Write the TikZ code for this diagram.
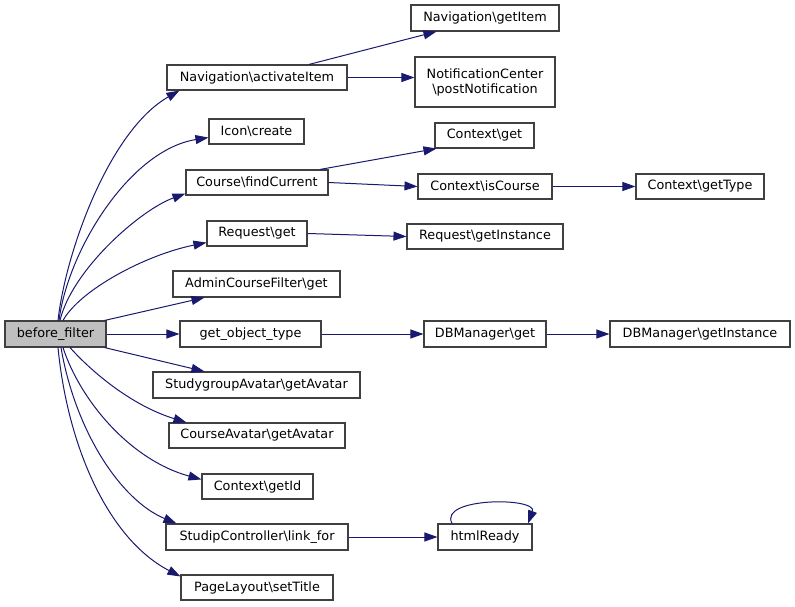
\documentclass[tikz,border=0pt]{standalone}
\usepackage{fontspec}
\setmainfont{DejaVu Sans}
\usetikzlibrary{arrows.meta}
\definecolor{edgeblue}{HTML}{191970}
\definecolor{boxborder}{HTML}{404040}
\definecolor{boxfill}{HTML}{BFBFBF}
\newcommand{\bs}{\textbackslash}
\tikzset{
  fn/.style={draw=boxborder, line width=1.1pt, fill=white, inner sep=0pt, align=center,
    font=\fontsize{12.8}{15}\selectfont},
  root/.style={fn, fill=boxfill},
  call/.style={draw=edgeblue, line width=1pt, -{Triangle[length=13pt,width=9pt,fill=edgeblue]}},
}
\begin{document}
\begin{tikzpicture}[x=1pt,y=-1pt]
\useasboundingbox (0,0) rectangle (795,607);
% nodes
\node[root, minimum width=101pt, minimum height=26pt] (bf) at (55.5,334) {before\_filter};
\node[fn, minimum width=180pt, minimum height=25pt] (act) at (257,77.5) {Navigation\bs activateItem};
\node[fn, minimum width=148pt, minimum height=26pt] (getItem) at (485,18) {Navigation\bs getItem};
\node[fn, minimum width=140pt, minimum height=50pt] (notif) at (485,82) {NotificationCenter\\\bs postNotification};
\node[fn, minimum width=95pt, minimum height=25pt] (icon) at (256.5,131.5) {Icon\bs create};
\node[fn, minimum width=142pt, minimum height=25pt] (find) at (257,182.5) {Course\bs findCurrent};
\node[fn, minimum width=99pt, minimum height=25pt] (cget) at (484.5,135.5) {Context\bs get};
\node[fn, minimum width=134pt, minimum height=25pt] (isCourse) at (485,186.5) {Context\bs isCourse};
\node[fn, minimum width=100pt, minimum height=25pt] (rget) at (257,233.5) {Request\bs get};
\node[fn, minimum width=156pt, minimum height=25pt] (rgetInst) at (485,236.5) {Request\bs getInstance};
\node[fn, minimum width=128pt, minimum height=25pt] (getType) at (700,186.5) {Context\bs getType};
\node[fn, minimum width=167pt, minimum height=26pt] (admin) at (256.5,284) {AdminCourseFilter\bs get};
\node[fn, minimum width=141pt, minimum height=26pt] (got) at (250.5,334) {get\_object\_type};
\node[fn, minimum width=122pt, minimum height=26pt] (dbget) at (485,334) {DBManager\bs get};
\node[fn, minimum width=180pt, minimum height=26pt] (dbInst) at (700,334) {DBManager\bs getInstance};
\node[fn, minimum width=207pt, minimum height=26pt] (study) at (256.5,385) {StudygroupAvatar\bs getAvatar};
\node[fn, minimum width=176pt, minimum height=25pt] (cavatar) at (257,435.5) {CourseAvatar\bs getAvatar};
\node[fn, minimum width=111pt, minimum height=25pt] (getId) at (257.5,486.5) {Context\bs getId};
\node[fn, minimum width=182pt, minimum height=26pt] (link) at (257,537) {StudipController\bs link\_for};
\node[fn, minimum width=94pt, minimum height=26pt] (html) at (485,537) {htmlReady};
\node[fn, minimum width=152pt, minimum height=25pt] (page) at (257,587.5) {PageLayout\bs setTitle};
% edges from before_filter
\draw[call] ([xshift=2.5pt]bf.north) .. controls (66,250) and (110,130) .. ([xshift=13pt]act.south west);
\draw[call] ([xshift=3.5pt]bf.north) .. controls (68,250) and (130,150) .. ([yshift=7pt]icon.south west);
\draw[call] ([xshift=4.5pt]bf.north) .. controls (72,270) and (140,210) .. ([yshift=2pt]find.south west);
\draw[call] ([xshift=7.5pt]bf.north) .. controls (80,290) and (145,255) .. ([yshift=4pt]rget.south west);
\draw[call] ([xshift=-2pt]bf.north east) -- ([xshift=32pt]admin.south west);
\draw[call] (bf.east) -- (got.west);
\draw[call] ([xshift=-2pt]bf.south east) -- ([xshift=52pt]study.north west);
\draw[call] ([xshift=14.5pt]bf.south) .. controls (90,370) and (130,405) .. ([xshift=18pt]cavatar.north west);
\draw[call] ([xshift=7.5pt]bf.south) .. controls (80,400) and (130,460) .. ([yshift=-6pt]getId.north west);
\draw[call] ([xshift=5.5pt]bf.south) .. controls (75,430) and (120,500) .. ([xshift=11pt]link.north west);
\draw[call] ([xshift=2.5pt]bf.south) .. controls (68,450) and (110,540) .. ([yshift=-2pt]page.north west);
% second level
\draw[call] ([xshift=52pt]act.north) -- ([xshift=26pt]getItem.south west);
\draw[call] (act.east) -- (act.east -| notif.west);
\draw[call] ([xshift=63pt]find.north) -- ([xshift=2pt]cget.south west);
\draw[call] (find.east) -- (isCourse.west);
\draw[call] (isCourse.east) -- (getType.west);
\draw[call] (rget.east) -- (rgetInst.west);
\draw[call] (got.east) -- (dbget.west);
\draw[call] (dbget.east) -- (dbInst.west);
\draw[call] (link.east) -- (html.west);
\draw[call] ([xshift=-33pt]html.north) .. controls (438,497) and (538,497) .. ([xshift=43pt]html.north);
\end{tikzpicture}
\end{document}
